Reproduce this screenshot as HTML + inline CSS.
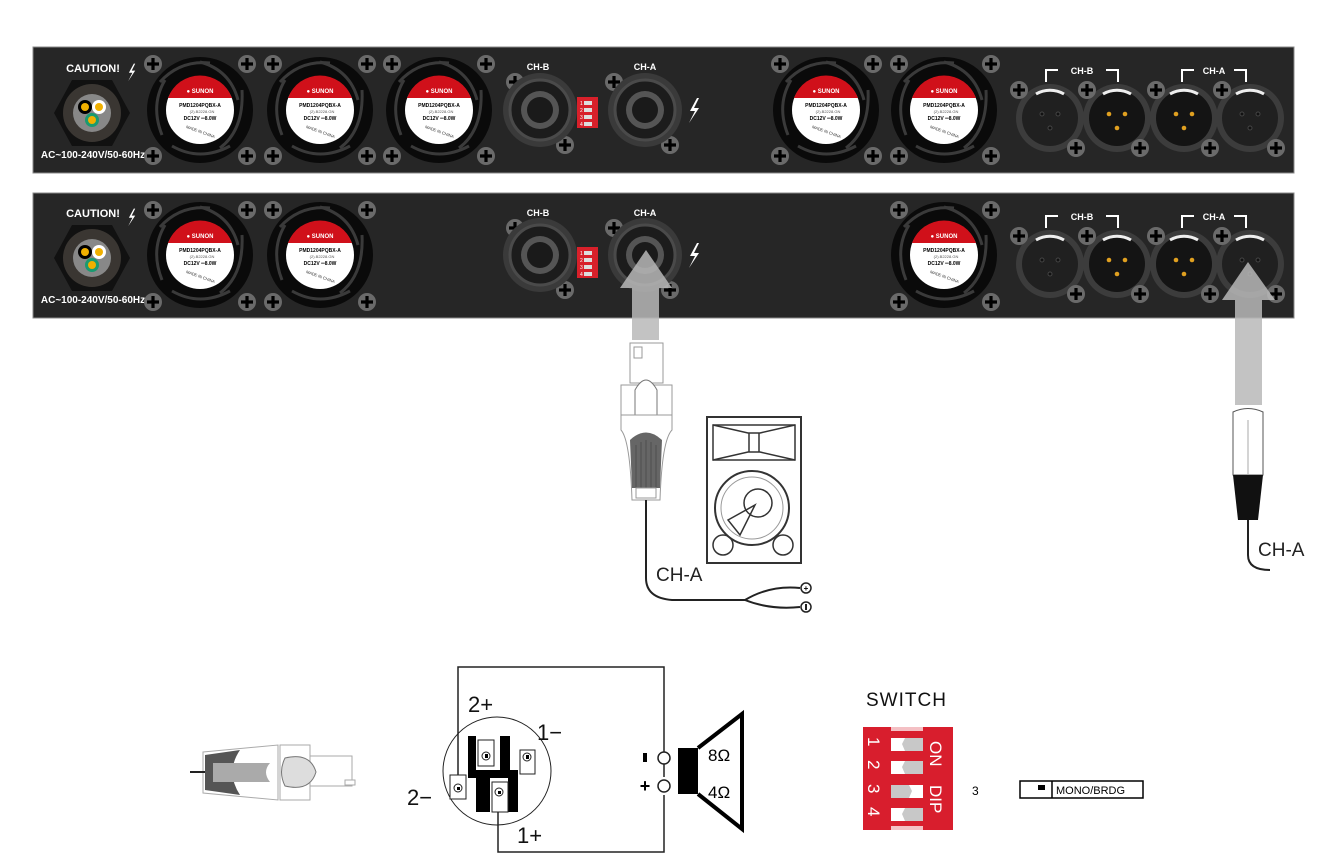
<!DOCTYPE html>
<html><head><meta charset="utf-8"><style>
html,body{margin:0;padding:0;background:#fff;}
svg{display:block;font-family:"Liberation Sans",Arial,sans-serif;}
</style></head><body>
<svg width="1327" height="867" viewBox="0 0 1327 867" xmlns="http://www.w3.org/2000/svg">
<defs>
 <g id="scr"><circle r="9" fill="#6a6a6a"/><path d="M-6 0H6M0 -6V6" stroke="#000" stroke-width="3.2"/></g>
 <g id="fan">
  <circle r="53" fill="#0a0a0a"/>
  <g fill="none" stroke="#3a3a3a" stroke-width="3">
   <path d="M0 -48 Q30 -40 38 -10"/><path d="M42 -20 Q44 20 20 38"/><path d="M30 36 Q0 52 -28 36"/><path d="M-38 25 Q-50 -5 -35 -30"/><path d="M-40 -28 Q-20 -50 10 -47"/>
  </g>
  <circle r="34" fill="#fff"/>
  <path d="M-32 -12 A34 34 0 0 1 32 -12 Z" fill="#d0101a"/>
  <text x="0" y="-17" font-size="6" fill="#fff" text-anchor="middle" font-weight="bold">● SUNON</text>
  <text x="0" y="-3" font-size="5" text-anchor="middle" font-weight="bold">PMD1204PQBX-A</text>
  <text x="2" y="3" font-size="4" text-anchor="middle" fill="#555">(2).B2228.GN</text>
  <text x="0" y="10" font-size="5" text-anchor="middle" font-weight="bold">DC12V ═8.0W</text>
  <text x="0" y="23" font-size="4" text-anchor="middle" fill="#333" transform="rotate(20 0 23)">MADE IN CHINA</text>
 </g>
 <g id="spk">
  <circle r="37" fill="#3a3a3a"/><circle r="30" fill="#1c1c1c" stroke="#4a4a4a" stroke-width="3"/><circle r="19" fill="#555"/><circle r="13" fill="#1a1a1a"/>
 </g>
 <g id="xlrf">
  <circle r="34" fill="#3c3c3c"/><circle r="28" fill="#202020"/><path d="M-14 -24 A28 28 0 0 1 14 -24" stroke="#eee" stroke-width="3" fill="none"/>
  <circle cx="-8" cy="-4" r="2" fill="#111" stroke="#444"/><circle cx="8" cy="-4" r="2" fill="#111" stroke="#444"/><circle cx="0" cy="10" r="2" fill="#111" stroke="#444"/>
 </g>
 <g id="xlrm">
  <circle r="34" fill="#3c3c3c"/><circle r="28" fill="#141414"/><path d="M-14 -24 A28 28 0 0 1 14 -24" stroke="#eee" stroke-width="3" fill="none"/>
  <circle cx="-8" cy="-4" r="2.3" fill="#e0a020"/><circle cx="8" cy="-4" r="2.3" fill="#e0a020"/><circle cx="0" cy="10" r="2.3" fill="#e0a020"/>
 </g>
 <g id="pwr">
  <polygon points="-20,-33 20,-33 38,0 20,33 -20,33 -38,0" fill="#111"/>
  <circle r="29" fill="#3a3632"/><circle r="19" fill="#888"/>
  <circle cx="-7" cy="-6" r="7" fill="#000"/><circle cx="-7" cy="-6" r="4" fill="#f0b000"/>
  <circle cx="7" cy="-6" r="7" fill="#fff"/><circle cx="7" cy="-6" r="4" fill="#f0b000"/>
  <circle cx="0" cy="7" r="7" fill="#1a9a70"/><circle cx="0" cy="7" r="4" fill="#f0b000"/>
 </g>
 <g id="dip">
  <rect x="0" y="0" width="21" height="31" fill="#d8202a"/>
  <g fill="#ddd"><rect x="7" y="4" width="8" height="4"/><rect x="7" y="11" width="8" height="4"/><rect x="7" y="18" width="8" height="4"/><rect x="7" y="25" width="8" height="4"/></g>
  <text x="3" y="8" font-size="5" fill="#fff">1</text><text x="3" y="15" font-size="5" fill="#fff">2</text><text x="3" y="22" font-size="5" fill="#fff">3</text><text x="3" y="29" font-size="5" fill="#fff">4</text>
 </g>
 <path id="bolt" d="M4 -12 L-3 1 L2 1 L-4 13 L6 -2 L1 -2 L6 -12Z" fill="#fff"/>
</defs>

<!-- Panel 1 -->
<rect x="33" y="47" width="1261" height="126" fill="#262626" stroke="#888" stroke-width="1"/>
<text x="93" y="72" font-size="11" fill="#fff" font-weight="bold" text-anchor="middle">CAUTION!</text>
<use href="#bolt" transform="translate(131,72) scale(0.7)"/>
<use href="#pwr" x="92" y="113"/>
<text x="93" y="158" font-size="10" fill="#fff" font-weight="bold" text-anchor="middle">AC~100-240V/50-60Hz</text>
<use href="#fan" x="200" y="110"/><use href="#fan" x="320" y="110"/><use href="#fan" x="439" y="110"/>
<use href="#scr" x="153" y="64"/><use href="#scr" x="247" y="64"/><use href="#scr" x="153" y="156"/><use href="#scr" x="247" y="156"/>
<use href="#scr" x="273" y="64"/><use href="#scr" x="367" y="64"/><use href="#scr" x="273" y="156"/><use href="#scr" x="367" y="156"/>
<use href="#scr" x="392" y="64"/><use href="#scr" x="486" y="64"/><use href="#scr" x="392" y="156"/><use href="#scr" x="486" y="156"/>
<text x="538" y="70" font-size="9" fill="#fff" font-weight="bold" text-anchor="middle">CH-B</text>
<text x="645" y="70" font-size="9" fill="#fff" font-weight="bold" text-anchor="middle">CH-A</text>
<use href="#scr" x="515" y="82"/><use href="#scr" x="565" y="145"/><use href="#scr" x="614" y="82"/><use href="#scr" x="670" y="145"/>
<use href="#spk" x="540" y="110"/><use href="#spk" x="645" y="110"/>
<use href="#dip" x="577" y="97"/>
<use href="#bolt" x="693" y="110"/>
<use href="#fan" x="826" y="110"/><use href="#fan" x="944" y="110"/>
<use href="#scr" x="780" y="64"/><use href="#scr" x="873" y="64"/><use href="#scr" x="780" y="156"/><use href="#scr" x="873" y="156"/>
<use href="#scr" x="899" y="64"/><use href="#scr" x="991" y="64"/><use href="#scr" x="899" y="156"/><use href="#scr" x="991" y="156"/>
<path d="M1046 82V70H1058M1106 70H1118V82" stroke="#fff" stroke-width="2" fill="none"/>
<text x="1082" y="74" font-size="9" fill="#fff" font-weight="bold" text-anchor="middle">CH-B</text>
<path d="M1182 82V70H1194M1234 70H1246V82" stroke="#fff" stroke-width="2" fill="none"/>
<text x="1214" y="74" font-size="9" fill="#fff" font-weight="bold" text-anchor="middle">CH-A</text>
<use href="#xlrf" x="1050" y="118"/><use href="#xlrm" x="1117" y="118"/><use href="#xlrm" x="1184" y="118"/><use href="#xlrf" x="1250" y="118"/>
<use href="#scr" x="1019" y="90"/><use href="#scr" x="1076" y="148"/><use href="#scr" x="1087" y="90"/><use href="#scr" x="1140" y="148"/>
<use href="#scr" x="1156" y="90"/><use href="#scr" x="1210" y="148"/><use href="#scr" x="1222" y="90"/><use href="#scr" x="1276" y="148"/>

<!-- Panel 2 -->
<rect x="33" y="193" width="1261" height="125" fill="#262626" stroke="#888" stroke-width="1"/>
<text x="93" y="217" font-size="11" fill="#fff" font-weight="bold" text-anchor="middle">CAUTION!</text>
<use href="#bolt" transform="translate(131,217) scale(0.7)"/>
<use href="#pwr" x="92" y="258"/>
<text x="93" y="303" font-size="10" fill="#fff" font-weight="bold" text-anchor="middle">AC~100-240V/50-60Hz</text>
<use href="#fan" x="200" y="255"/><use href="#fan" x="320" y="255"/>
<use href="#scr" x="153" y="210"/><use href="#scr" x="247" y="210"/><use href="#scr" x="153" y="302"/><use href="#scr" x="247" y="302"/>
<use href="#scr" x="273" y="210"/><use href="#scr" x="367" y="210"/><use href="#scr" x="273" y="302"/><use href="#scr" x="367" y="302"/>
<text x="538" y="216" font-size="9" fill="#fff" font-weight="bold" text-anchor="middle">CH-B</text>
<text x="645" y="216" font-size="9" fill="#fff" font-weight="bold" text-anchor="middle">CH-A</text>
<use href="#scr" x="515" y="228"/><use href="#scr" x="565" y="290"/><use href="#scr" x="614" y="228"/><use href="#scr" x="670" y="290"/>
<use href="#spk" x="540" y="255"/><use href="#spk" x="645" y="255"/>
<use href="#dip" x="577" y="247"/>
<use href="#bolt" x="693" y="255"/>
<use href="#fan" x="944" y="255"/>
<use href="#scr" x="899" y="210"/><use href="#scr" x="991" y="210"/><use href="#scr" x="899" y="302"/><use href="#scr" x="991" y="302"/>
<path d="M1046 228V216H1058M1106 216H1118V228" stroke="#fff" stroke-width="2" fill="none"/>
<text x="1082" y="220" font-size="9" fill="#fff" font-weight="bold" text-anchor="middle">CH-B</text>
<path d="M1182 228V216H1194M1234 216H1246V228" stroke="#fff" stroke-width="2" fill="none"/>
<text x="1214" y="220" font-size="9" fill="#fff" font-weight="bold" text-anchor="middle">CH-A</text>
<use href="#xlrf" x="1050" y="264"/><use href="#xlrm" x="1117" y="264"/><use href="#xlrm" x="1184" y="264"/><use href="#xlrf" x="1250" y="264"/>
<use href="#scr" x="1019" y="236"/><use href="#scr" x="1076" y="294"/><use href="#scr" x="1087" y="236"/><use href="#scr" x="1140" y="294"/>
<use href="#scr" x="1156" y="236"/><use href="#scr" x="1210" y="294"/><use href="#scr" x="1222" y="236"/><use href="#scr" x="1276" y="294"/>

<!-- arrows -->
<polygon points="632,340 632,288 620,288 646,250 672,288 659,288 659,340" fill="#b8b8b8" opacity="0.85"/>
<polygon points="1235,405 1235,300 1222,300 1248,262 1275,300 1262,300 1262,405" fill="#b8b8b8" opacity="0.85"/>

<!-- speakon plug -->
<g stroke="#999" fill="#fff" stroke-width="1">
 <rect x="630" y="343" width="33" height="40"/><rect x="634" y="347" width="8" height="11"/>
 <rect x="621" y="385" width="51" height="30"/>
 <path d="M635 390 Q646 370 657 390 L657 415 Q646 430 635 415Z" stroke="#777"/>
 <path d="M621 415 L672 415 L672 430 Q662 440 660 500 L632 500 Q630 440 621 430Z"/>
</g>
<path d="M630 440 Q646 425 662 440 L660 488 L632 488Z" fill="#666"/>
<g stroke="#444" stroke-width="0.7"><path d="M636 445V488M641 442V488M646 440V488M651 442V488M656 445V488"/></g>
<rect x="636" y="488" width="20" height="10" fill="#fff" stroke="#999"/>
<path d="M646 500 V578 Q646 598 672 600 L745 600 Q770 585 800 588 M745 600 Q770 610 800 607" stroke="#222" stroke-width="2" fill="none"/>
<circle cx="806" cy="588" r="5" fill="#fff" stroke="#222" stroke-width="1.5"/><text x="806" y="591" font-size="8" text-anchor="middle" font-weight="bold">+</text>
<circle cx="806" cy="607" r="5" fill="#fff" stroke="#222" stroke-width="1.5"/><path d="M806 604V610" stroke="#222" stroke-width="2"/>
<text x="656" y="581" font-size="19" fill="#222">CH-A</text>

<!-- speaker cabinet -->
<rect x="707" y="417" width="94" height="146" fill="#fff" stroke="#333" stroke-width="2"/>
<path d="M713 425H795V460H713Z" fill="none" stroke="#333" stroke-width="1.5"/>
<path d="M713 425 L748 433 L760 433 L795 425 M713 460 L748 452 L760 452 L795 460 M749 433V452M759 433V452" stroke="#333" fill="none" stroke-width="1.5"/>
<circle cx="752" cy="508" r="37" fill="none" stroke="#333" stroke-width="2"/>
<circle cx="752" cy="508" r="31" fill="none" stroke="#999" stroke-width="1"/>
<circle cx="758" cy="503" r="14" fill="none" stroke="#333" stroke-width="1.5"/>
<path d="M728 520 L755 505 L740 535Z" fill="none" stroke="#333" stroke-width="1.5"/>
<circle cx="723" cy="545" r="10" fill="none" stroke="#333" stroke-width="1.5"/><circle cx="783" cy="545" r="10" fill="none" stroke="#333" stroke-width="1.5"/>

<!-- XLR plug -->
<path d="M1233 412 Q1248 405 1263 412 L1263 475 L1233 475Z" fill="#fff" stroke="#555"/>
<path d="M1248 420V475" stroke="#aaa"/>
<path d="M1233 475 H1263 L1258 520 H1238Z" fill="#111"/>
<path d="M1248 520 V555 Q1248 570 1270 570" stroke="#222" stroke-width="2" fill="none"/>
<text x="1258" y="556" font-size="19" fill="#222">CH-A</text>

<!-- horizontal plug -->
<g stroke="#aaa" fill="#fff">
 <path d="M203 752 L278 745 L278 800 L203 793Z"/>
 <rect x="280" y="745" width="30" height="55"/><rect x="310" y="756" width="42" height="30"/><rect x="345" y="780" width="10" height="5"/>
</g>
<path d="M205 755 L240 750 Q225 772 240 795 L205 790Z" fill="#555"/>
<path d="M213 763 L270 763 Q262 772 270 782 L213 782Z" fill="#aaa"/>
<path d="M285 758 Q310 752 316 772 Q310 792 285 786 Q278 772 285 758Z" fill="#ddd" stroke="#777"/>
<path d="M190 772H205" stroke="#222" stroke-width="2"/>

<!-- wiring -->
<g stroke="#222" stroke-width="1.5" fill="none">
 <path d="M458 790V667H664V777"/>
 <path d="M498 790V852H664V795"/>
</g>
<circle cx="497" cy="771" r="54" fill="none" stroke="#222" stroke-width="1"/>
<path d="M468 736H476V770H500V736H510V770H518V812H508V778H490V812H476V778H468Z" fill="#000"/>
<g fill="#fff" stroke="#222" stroke-width="1">
 <rect x="478" y="740" width="16" height="26"/><rect x="520" y="750" width="15" height="24"/>
 <rect x="450" y="775" width="16" height="24"/><rect x="492" y="782" width="16" height="30"/>
 <circle cx="486" cy="756" r="4"/><circle cx="527" cy="757" r="4"/><circle cx="458" cy="788" r="4"/><circle cx="499" cy="792" r="4"/>
</g>
<g fill="#000"><rect x="485" y="754" width="3" height="4"/><rect x="526" y="755" width="3" height="4"/><rect x="457" y="787" width="3" height="3"/><rect x="498" y="791" width="3" height="3"/></g>
<g font-size="22" fill="#111">
 <text x="468" y="712">2+</text><text x="537" y="740">1−</text><text x="407" y="805">2−</text><text x="517" y="843">1+</text>
</g>
<circle cx="664" cy="758" r="6" fill="#fff" stroke="#222" stroke-width="1.5"/>
<circle cx="664" cy="786" r="6" fill="#fff" stroke="#222" stroke-width="1.5"/>
<rect x="643" y="753" width="4" height="9" fill="#000"/>
<text x="645" y="792" font-size="18" font-weight="bold" text-anchor="middle">+</text>
<rect x="678" y="748" width="20" height="46" fill="#000"/>
<path d="M698 748 L742 714 L742 829 L698 794" fill="none" stroke="#000" stroke-width="4"/>
<text x="708" y="761" font-size="17">8Ω</text><text x="708" y="798" font-size="17">4Ω</text>

<!-- switch -->
<text x="866" y="706" font-size="19" fill="#111" letter-spacing="1">SWITCH</text>
<rect x="863" y="727" width="90" height="103" fill="#d81e2d"/>
<rect x="891" y="727" width="32" height="4" fill="#f4c0c4"/><rect x="891" y="826" width="32" height="4" fill="#f4c0c4"/>
<g fill="#c8c8c8"><rect x="891" y="738" width="32" height="13"/><rect x="891" y="761" width="32" height="13"/><rect x="891" y="785" width="32" height="13"/><rect x="891" y="808" width="32" height="13"/></g>
<g fill="#fff"><path d="M891 738H905L902 744L905 751H891Z"/><path d="M891 761H905L902 767L905 774H891Z"/><path d="M923 785H909L912 791L909 798H923Z"/><path d="M891 808H905L902 814L905 821H891Z"/></g>
<g fill="#fff" font-size="17">
 <text transform="translate(868,737) rotate(90)">1</text><text transform="translate(868,760) rotate(90)">2</text><text transform="translate(868,784) rotate(90)">3</text><text transform="translate(868,807) rotate(90)">4</text>
 <text transform="translate(930,741) rotate(90)">ON</text><text transform="translate(930,785) rotate(90)">DIP</text>
</g>
<text x="972" y="795" font-size="12">3</text>
<rect x="1020" y="781" width="123" height="17" fill="#fff" stroke="#000" stroke-width="1.5"/>
<path d="M1052 781V798" stroke="#000" stroke-width="1.5"/>
<rect x="1038" y="785" width="7" height="5" fill="#000"/>
<text x="1056" y="794" font-size="11">MONO/BRDG</text>
</svg>
</body></html>
